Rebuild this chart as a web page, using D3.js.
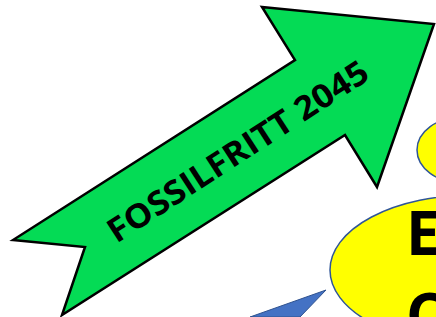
<!DOCTYPE html>
<html lang="sv">
<head>
<meta charset="UTF-8">
<title>Fossilfritt 2045</title>
<script src="https://d3js.org/d3.v7.min.js"></script>
<style>
    body{ margin:0; background:#fff; }
    svg{ display:block; }
</style>
</head>
<body>
<script>
    // shape outlines (picture units)
    const arrowX = [13, 85, 62, 345, 377, 434, 262, 295]
    const arrowY = [240, 247, 315, 135, 187, 24, 7, 60]
    const pointerX = [250, 326, 300]
    const pointerY = [317, 290, 317]
    const ellipseCx = [462, 472]
    const ellipseCy = [150, 270]
    const ellipseRx = [45, 142]
    const ellipseRy = [33, 75]
    const arrowLabel = "FOSSILFRITT 2045"
    const bubbleLines = ["E", "C"]

    const size = {width:436, height:317}
    const svg = d3.select("body").append("svg")
        .attr("width", size.width).attr("height", size.height)

    const x = d3.scaleLinear().domain([0, size.width]).range([0, size.width])
    const y = d3.scaleLinear().domain([0, size.height]).range([0, size.height])
    const line = d3.line().x(d=> x(d[0])).y(d=> y(d[1])).curve(d3.curveLinearClosed)

    // yellow bubbles
    svg.selectAll("ellipse").data(ellipseCx.map((c,i)=> ({cx:c, cy:ellipseCy[i], rx:ellipseRx[i], ry:ellipseRy[i]})))
        .join("ellipse")
        .attr("cx", d=> x(d.cx)).attr("cy", d=> y(d.cy))
        .attr("rx", d=> d.rx).attr("ry", d=> d.ry)
        .attr("fill", "#ffff00").attr("stroke", "#2f5597").attr("stroke-width", 1.5)

    svg.selectAll("text.bubble").data(bubbleLines).join("text")
        .attr("class", "bubble")
        .attr("x", x(406)).attr("y", (d,i)=> y(255 + i*82))
        .attr("font-family", "'Open Sans', sans-serif").attr("font-weight", "bold")
        .attr("font-size", 60).attr("fill", "#000")
        .text(d=> d)

    // blue pointer
    svg.append("path")
        .attr("d", line(pointerX.map((v,i)=> [v, pointerY[i]])))
        .attr("fill", "#4472c4").attr("stroke", "#2f528f").attr("stroke-width", 1)

    // green arrow
    svg.append("path")
        .attr("d", line(arrowX.map((v,i)=> [v, arrowY[i]])))
        .attr("fill", "#04db55").attr("stroke", "#000").attr("stroke-width", 2.5)
        .attr("stroke-linejoin", "miter")

    svg.append("text")
        .attr("transform", `translate(${x(244)},${y(161)}) rotate(-33)`)
        .attr("text-anchor", "middle")
        .attr("font-family", "'Open Sans', sans-serif").attr("font-weight", "bold")
        .attr("font-size", 33)
        .attr("textLength", 304).attr("lengthAdjust", "spacingAndGlyphs")
        .text(arrowLabel)
</script>
</body>
</html>
